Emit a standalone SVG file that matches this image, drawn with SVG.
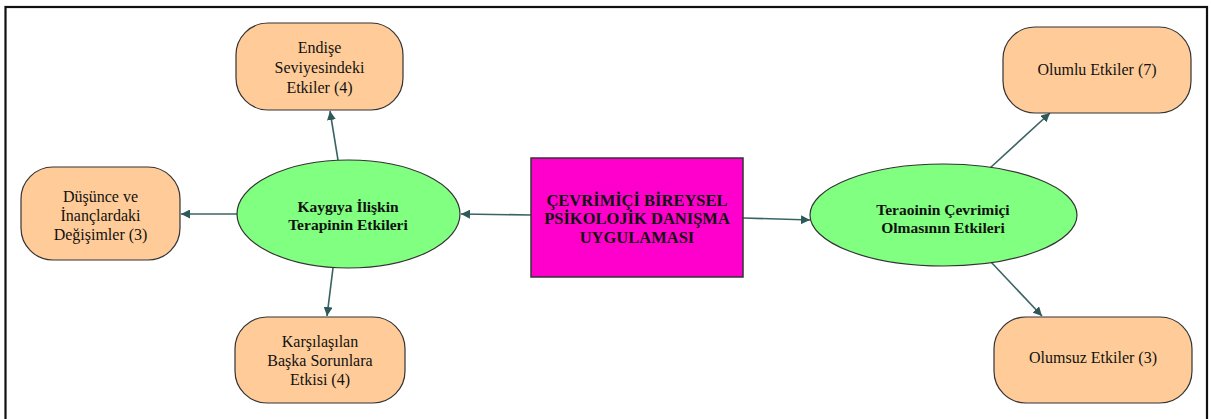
<svg xmlns="http://www.w3.org/2000/svg" width="1211" height="419" viewBox="0 0 1211 419">
<style>
.orange{fill:#FFCC99;stroke:#333;stroke-width:1.2}
.green{fill:#80FF80;stroke:#333;stroke-width:1.2}
.center{fill:#FF00CC;stroke:#333;stroke-width:1.5}
text{font-family:"Liberation Serif","Times New Roman",serif;font-size:16px;fill:#111;text-anchor:middle}
.b{font-weight:bold;font-size:15.5px}
.c{font-size:16.5px}
.edge{stroke:#3A6464;stroke-width:1.6;fill:none;marker-end:url(#ah)}
</style>
<defs>
<marker id="ah" viewBox="0 0 10 10" refX="10" refY="5" markerWidth="9" markerHeight="9" markerUnits="userSpaceOnUse" orient="auto">
<path d="M0,0 L10,5 L0,10 z" fill="#2F5858"/>
</marker>
</defs>
<rect x="0" y="0" width="1211" height="419" fill="#fff"/>
<rect x="5.5" y="7" width="1201.5" height="420" fill="none" stroke="#111" stroke-width="2.2"/>
<g id="connectors">
<line class="edge" x1="531" y1="215" x2="461" y2="214"/>
<line class="edge" x1="743" y1="218" x2="810" y2="220"/>
<line class="edge" x1="338" y1="160" x2="330" y2="111"/>
<line class="edge" x1="237" y1="214" x2="181" y2="214"/>
<line class="edge" x1="333" y1="268" x2="327" y2="316"/>
<line class="edge" x1="990" y1="168" x2="1050" y2="113"/>
<line class="edge" x1="991" y1="262" x2="1042" y2="316"/>
</g>
<g id="center" font-family="Liberation Serif, serif">
<rect class="center" x="531" y="158" width="212" height="119"/>
<text class="b c" x="637" y="206">ÇEVRİMİÇİ BİREYSEL</text>
<text class="b c" x="637" y="224">PSİKOLOJİK DANIŞMA</text>
<text class="b c" x="637" y="243">UYGULAMASI</text>
</g>
<g id="kaygiya" font-family="Liberation Serif, serif">
<ellipse class="green" cx="348.5" cy="214" rx="111.5" ry="54"/>
<text class="b" x="348" y="212">Kaygıya İlişkin</text>
<text class="b" x="348" y="230">Terapinin Etkileri</text>
</g>
<g id="cevrimici" font-family="Liberation Serif, serif">
<ellipse class="green" cx="943.5" cy="215" rx="133.5" ry="51"/>
<text class="b" x="943" y="215">Teraoinin Çevrimiçi</text>
<text class="b" x="943" y="233">Olmasının Etkileri</text>
</g>
<g id="endise" font-family="Liberation Serif, serif">
<rect class="orange" x="236" y="23" width="167" height="87" rx="32" ry="32"/>
<text x="319.5" y="53">Endişe</text>
<text x="319.5" y="73">Seviyesindeki</text>
<text x="319.5" y="93">Etkiler (4)</text>
</g>
<g id="dusunce" font-family="Liberation Serif, serif">
<rect class="orange" x="21" y="167" width="159" height="93" rx="32" ry="32"/>
<text x="100.5" y="202">Düşünce ve</text>
<text x="100.5" y="221">İnançlardaki</text>
<text x="100.5" y="240">Değişimler (3)</text>
</g>
<g id="karsilasilan" font-family="Liberation Serif, serif">
<rect class="orange" x="235" y="317" width="170" height="86" rx="32" ry="32"/>
<text x="320" y="347">Karşılaşılan</text>
<text x="320" y="366">Başka Sorunlara</text>
<text x="320" y="385">Etkisi (4)</text>
</g>
<g id="olumlu" font-family="Liberation Serif, serif">
<rect class="orange" x="1003" y="27" width="188" height="86" rx="32" ry="32"/>
<text x="1097" y="75">Olumlu Etkiler (7)</text>
</g>
<g id="olumsuz" font-family="Liberation Serif, serif">
<rect class="orange" x="994" y="317" width="198" height="86" rx="32" ry="32"/>
<text x="1093" y="363">Olumsuz Etkiler (3)</text>
</g>
</svg>
